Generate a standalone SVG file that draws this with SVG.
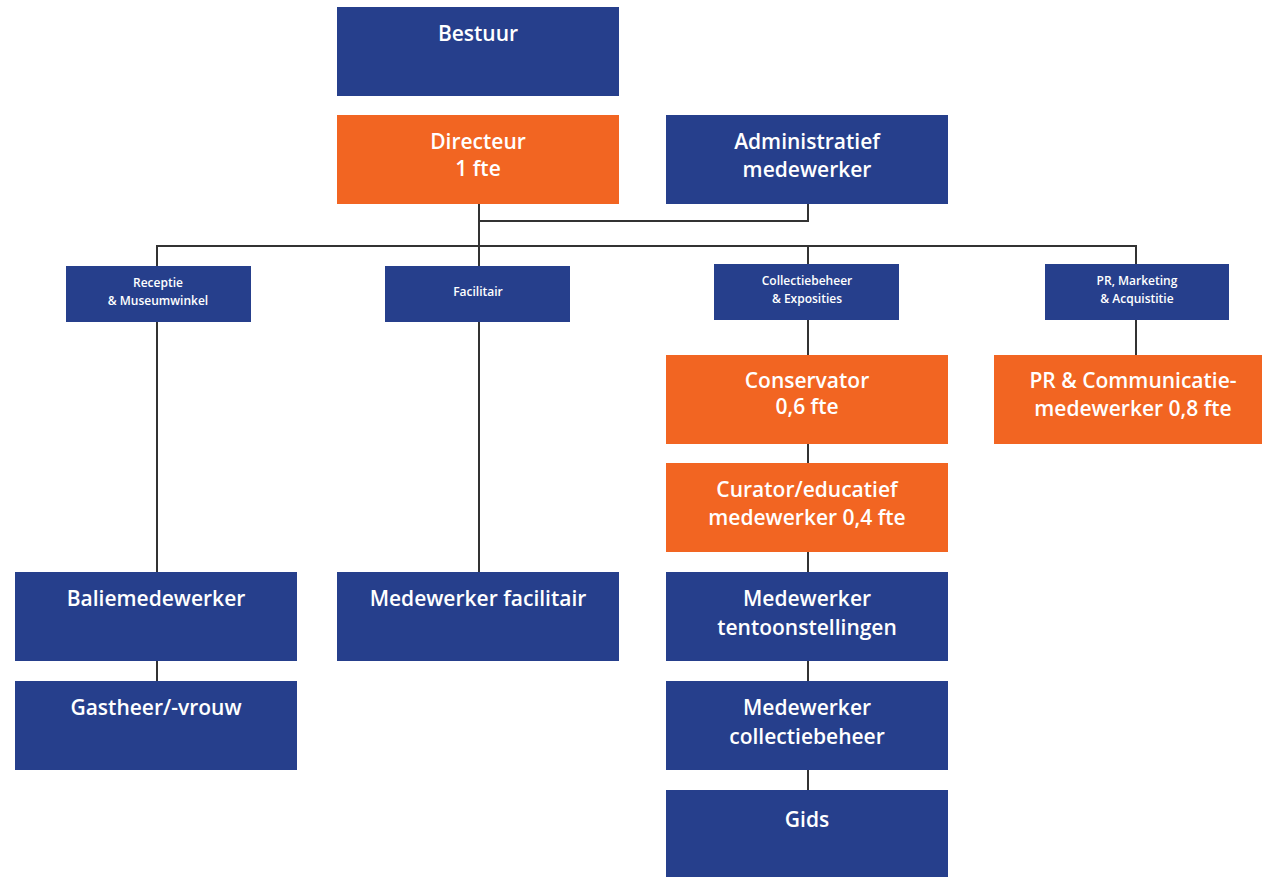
<svg xmlns="http://www.w3.org/2000/svg" width="1262" height="877" viewBox="0 0 1262 877">
<style>
.b{fill:#263f8c}
.o{fill:#f26522}
text{font-family:"Open Sans","Noto Sans","Liberation Sans",sans-serif;font-weight:600;fill:#ffffff;text-anchor:middle}
.t{font-size:21px}
.s{font-size:12px}
.c{stroke:#333333;stroke-width:2;fill:none}
</style>
<rect width="1262" height="877" fill="#ffffff"/>
<g id="connectors">
<path class="c" d="M479 204V266M808 204V221H479M157 266V246H1136V264M808 246V264M157 322V572M479 322V572M808 320V355M1136 320V355M808 444V463M808 552V572M808 661V681M808 770V790M157 661V681"/>
</g>
<g id="bestuur"><rect class="b" x="337" y="7" width="282" height="89"/><text class="t" x="478" y="41">Bestuur</text></g>
<g id="directeur"><rect class="o" x="337" y="115" width="282" height="89"/><text class="t" x="478" y="149">Directeur</text><text class="t" x="478" y="176">1 fte</text></g>
<g id="administratief"><rect class="b" x="666" y="115" width="282" height="89"/><text class="t" x="807" y="149">Administratief</text><text class="t" x="807" y="177">medewerker</text></g>
<g id="receptie"><rect class="b" x="66" y="266" width="185" height="56"/><text class="s" x="158" y="287">Receptie</text><text class="s" x="158" y="305">&amp; Museumwinkel</text></g>
<g id="facilitair"><rect class="b" x="385" y="266" width="185" height="56"/><text class="s" x="478" y="296">Facilitair</text></g>
<g id="collectiebeheer"><rect class="b" x="714" y="264" width="185" height="56"/><text class="s" x="807" y="285">Collectiebeheer</text><text class="s" x="807" y="303">&amp; Exposities</text></g>
<g id="pr-marketing"><rect class="b" x="1045" y="264" width="184" height="56"/><text class="s" x="1137" y="285">PR, Marketing</text><text class="s" x="1137" y="303">&amp; Acquistitie</text></g>
<g id="conservator"><rect class="o" x="666" y="355" width="282" height="89"/><text class="t" x="807" y="388">Conservator</text><text class="t" x="807" y="414">0,6 fte</text></g>
<g id="pr-communicatie"><rect class="o" x="994" y="355" width="268" height="89"/><text class="t" x="1133" y="388">PR &amp; Communicatie-</text><text class="t" x="1133" y="416">medewerker 0,8 fte</text></g>
<g id="curator"><rect class="o" x="666" y="463" width="282" height="89"/><text class="t" x="807" y="497">Curator/educatief</text><text class="t" x="807" y="525">medewerker 0,4 fte</text></g>
<g id="baliemedewerker"><rect class="b" x="15" y="572" width="282" height="89"/><text class="t" x="156" y="606">Baliemedewerker</text></g>
<g id="medewerker-facilitair"><rect class="b" x="337" y="572" width="282" height="89"/><text class="t" x="478" y="606">Medewerker facilitair</text></g>
<g id="medewerker-tentoonstellingen"><rect class="b" x="666" y="572" width="282" height="89"/><text class="t" x="807" y="606">Medewerker</text><text class="t" x="807" y="635">tentoonstellingen</text></g>
<g id="gastheer"><rect class="b" x="15" y="681" width="282" height="89"/><text class="t" x="156" y="715">Gastheer/-vrouw</text></g>
<g id="medewerker-collectiebeheer"><rect class="b" x="666" y="681" width="282" height="89"/><text class="t" x="807" y="715">Medewerker</text><text class="t" x="807" y="744">collectiebeheer</text></g>
<g id="gids"><rect class="b" x="666" y="790" width="282" height="87"/><text class="t" x="807" y="827">Gids</text></g>
</svg>
